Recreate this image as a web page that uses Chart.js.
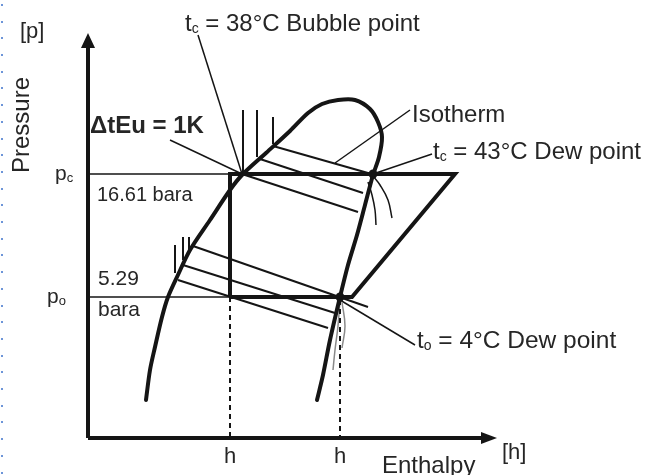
<!DOCTYPE html>
<html lang="en">
<head>
<meta charset="UTF-8">
<title>Pressure - Enthalpy diagram</title>
<script src="https://cdn.jsdelivr.net/npm/chart.js"></script>
<style>
  html, body { margin: 0; padding: 0; background: #fff; }
  .wrap { position: relative; width: 658px; height: 475px; }
  /* dotted blue edge on the left of the screenshot */
  .dots { position: absolute; left: 1px; top: 4px; width: 2px; height: 471px;
          background: repeating-linear-gradient(to bottom, #6d95d8 0 2px, transparent 2px 16.7px); }
</style>
</head>
<body>
<div class="wrap">
  <canvas id="phChart" width="658" height="475"></canvas>
  <div class="dots"></div>
</div>

<script>
// diagram units: x = enthalpy, y = pressure, both 0..100 (schematic)
const pC = 66;        // condensing pressure line
const p0 = 35.25;     // evaporating pressure line
const hLiq = 35.5;    // enthalpy after expansion
const hVap = 63;      // enthalpy at evaporator dew point

const saturationDome = [[14.5,9.5],[15.5,17],[16.75,22.75],[18.5,30.25],[20,35.25],[22.25,40.25],[25.5,47],
  [30.5,54.5],[35.5,62],[38.5,65.75],[44.5,71.25],[50.5,76.75],[55,81.25],[58.5,83.5],[62.5,84.5],
  [66.75,84.5],[70.5,82.25],[72.5,79],[73.5,75.25],[72.75,70.25],[71.25,65.75],[69.25,58.25],[67.25,50.75],
  [65,43.25],[63,35.25],[60.5,24.5],[58.75,15.75],[57.25,9.5]];

const cycleLine = [[hLiq,p0],[hLiq,pC],[91.75,pC],[66,p0],[hLiq,p0]];
const pressureRefs = [[[0,pC],[hLiq,pC]], [[0,p0],[hLiq,p0]]];
const enthalpyDrops = [[[hLiq,p0],[hLiq,0]], [[hVap,34.5],[hVap,0]]];

// liquid isotherms (vertical) and two-phase isotherms (sloped)
const hatchHigh = [[[38.75,82],[38.75,66]], [[42.25,82],[42.25,70.25]], [[46.25,80.25],[46.25,73.5]]];
const hatchLow = [[[21.75,48.25],[21.75,41.25]], [[23.75,50.25],[23.75,44.5]], [[25.25,50.25],[25.25,47]]];
const isoHigh = [[[46.25,73],[70,66.25]], [[43,69.75],[68.75,61.25]], [[39.25,65.75],[67.5,56.5]]];
const isoLow = [[[26.25,48],[70,32.75]], [[23.75,43.25],[61.75,31.25]], [[22.5,39.5],[60,27.5]]];
const superheatHigh = [[[71.25,65.5],[73,63.25],[75,59.5],[76,55]], [[70,64],[71,60.75],[71.75,57],[72,53.25]]];
const superheatLow = [[[63,34.5],[62.5,28],[61.75,22],[61.25,17]], [[63.5,34],[64.25,28],[63.5,22.5]]];

const dewPoints = [[71.25,66],[63,35.25]];

// leader lines from labels
const leaders = [
  [[27.5,100.75],[38.5,66]],    // bubble point
  [[20.5,74.5],[38.5,66]],      // delta t
  [[61.75,68.75],[80.5,82]],    // isotherm
  [[71.25,66],[86,71]],         // tc dew point
  [[63,34.5],[81.75,23.25]]     // t0 dew point
];

const axisLines = [[[0,0],[0,98]], [[0,0],[98.5,0]]];
const arrowTips = [{x:0, y:101.25, dir:'up'}, {x:102.25, y:0, dir:'right'}];

// text labels: parts = [text, size, dy, bold]
const textLabels = [
  {x:-17, y:101.5, parts:[['[p]',22]]},
  {x:-16.5, y:78.25, rot:true, parts:[['Pressure',24]]},
  {x:-8.25, y:66, parts:[['p',21],['c',13,4]]},
  {x:-10.25, y:p0, parts:[['p',21],['o',13,4]]},
  {x:2.25, y:60.75, parts:[['16.61 bara',20]]},
  {x:2.5, y:39.75, parts:[['5.29',21]]},
  {x:2.5, y:32, parts:[['bara',21]]},
  {x:0.5, y:78, parts:[['\u0394tEu = 1K',24,0,true]]},
  {x:24.25, y:103.5, parts:[['t',24],['c',14,5],[' = 38\u00b0C Bubble point',24]]},
  {x:81, y:80.75, parts:[['Isotherm',24]]},
  {x:86.25, y:71.5, parts:[['t',24],['c',14,5],[' = 43\u00b0C Dew point',24]]},
  {x:82.25, y:24.25, parts:[['t',24],['o',14,5],[' = 4\u00b0C Dew point',24.5]]},
  {x:hLiq, y:-4.75, center:true, parts:[['h',22]]},
  {x:hVap, y:-4.75, center:true, parts:[['h',22]]},
  {x:103.5, y:-3.75, parts:[['[h]',22]]},
  {x:73.5, y:-7, parts:[['Enthalpy',24]]}
];

const INK = '#151515';
const TEXT = '#262626';
const FONT = "'Liberation Sans', Arial, sans-serif";

function pts(list) { return list.map(p => ({x: p[0], y: p[1]})); }

function lineSet(list, width, extra) {
  return Object.assign({
    data: pts(list), showLine: true, borderColor: INK, borderWidth: width,
    pointRadius: 0, tension: 0, clip: false, fill: false
  }, extra || {});
}

const datasets = [];
axisLines.forEach(s => datasets.push(lineSet(s, 4)));
datasets.push(lineSet(saturationDome, 4, {tension: 0.3, borderCapStyle: 'round'}));
pressureRefs.forEach(s => datasets.push(lineSet(s, 1.5)));
enthalpyDrops.forEach(s => datasets.push(lineSet(s, 2, {borderDash: [5, 4]})));
datasets.push(lineSet(cycleLine, 4, {borderJoinStyle: 'miter'}));
hatchHigh.concat(hatchLow, isoHigh, isoLow).forEach(s => datasets.push(lineSet(s, 2)));
superheatHigh.forEach(s => datasets.push(lineSet(s, 1.5, {tension: 0.4})));
superheatLow.forEach(s => datasets.push(lineSet(s, 1.5, {tension: 0.4, borderColor: '#8a8a8a'})));
leaders.forEach(s => datasets.push(lineSet(s, 1.5)));
datasets.push({data: pts(dewPoints), showLine: false, pointRadius: 4.5, pointBackgroundColor: INK,
               pointBorderWidth: 0, clip: false});

// arrows + text, placed through the chart scales
const annotate = {
  id: 'annotate',
  afterDatasetsDraw(chart) {
    const ctx = chart.ctx, xs = chart.scales.x, ys = chart.scales.y;
    ctx.save();
    ctx.fillStyle = INK;
    arrowTips.forEach(a => {
      const px = xs.getPixelForValue(a.x), py = ys.getPixelForValue(a.y);
      ctx.beginPath();
      if (a.dir === 'up') {
        ctx.moveTo(px, py); ctx.lineTo(px - 7, py + 15); ctx.lineTo(px + 7, py + 15);
      } else {
        ctx.moveTo(px, py); ctx.lineTo(px - 16, py - 6); ctx.lineTo(px - 16, py + 6);
      }
      ctx.closePath(); ctx.fill();
    });

    ctx.fillStyle = TEXT;
    ctx.textBaseline = 'middle';
    textLabels.forEach(l => {
      const px = xs.getPixelForValue(l.x), py = ys.getPixelForValue(l.y);
      const widths = l.parts.map(p => {
        ctx.font = (p[3] ? 'bold ' : '') + p[1] + 'px ' + FONT;
        return ctx.measureText(p[0]).width;
      });
      const total = widths.reduce((a, b) => a + b, 0);
      ctx.save();
      ctx.translate(px, py);
      if (l.rot) ctx.rotate(-Math.PI / 2);
      let cx = (l.center || l.rot) ? -total / 2 : 0;
      l.parts.forEach((p, i) => {
        ctx.font = (p[3] ? 'bold ' : '') + p[1] + 'px ' + FONT;
        ctx.textAlign = 'left';
        ctx.fillText(p[0], cx, p[2] || 0);
        cx += widths[i];
      });
      ctx.restore();
    });
    ctx.restore();
  }
};

new Chart(document.getElementById('phChart'), {
  type: 'scatter',
  data: { datasets: datasets },
  options: {
    responsive: false,
    animation: false,
    layout: { padding: { left: 88, right: 170, top: 38, bottom: 37 } },
    plugins: { legend: { display: false }, tooltip: { enabled: false } },
    scales: {
      x: { type: 'linear', min: 0, max: 100, display: false },
      y: { type: 'linear', min: 0, max: 100, display: false }
    }
  },
  plugins: [annotate]
});
</script>
</body>
</html>
